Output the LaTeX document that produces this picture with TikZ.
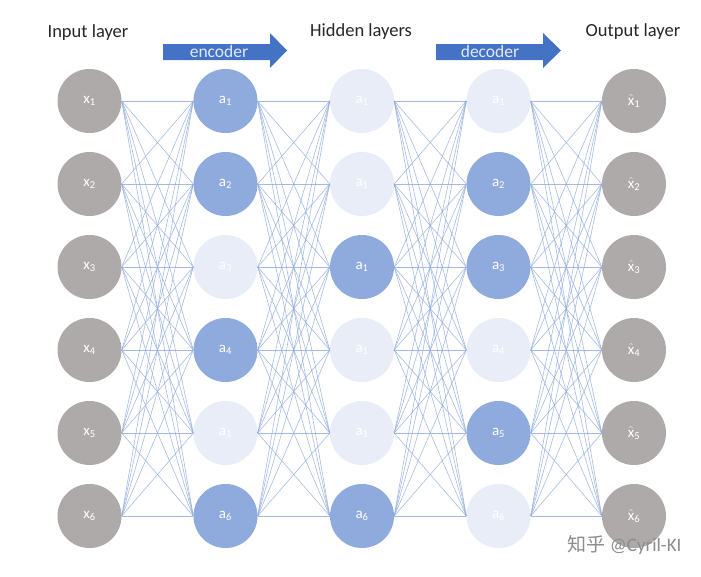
\documentclass[tikz,border=0pt]{standalone}
\usepackage{fontspec}
\setmainfont{Carlito}
\newfontfamily\cjk{Noto Sans CJK SC}
\definecolor{greyn}{HTML}{AEAAAA}
\definecolor{darkn}{HTML}{8FAADC}
\definecolor{lightn}{HTML}{E8EDF8}
\definecolor{linec}{HTML}{8FAADC}
\definecolor{arrowc}{HTML}{4472C4}
\tikzset{
  neuron/.style={circle,minimum size=64pt,inner sep=0pt,text=white,font=\fontsize{15}{17}\selectfont},
  inn/.style={neuron,fill=greyn},
  dk/.style={neuron,fill=darkn},
  lt/.style={neuron,fill=lightn,text=white},
  conn/.style={draw=linec,line width=0.6pt,opacity=0.8},
  title/.style={font=\fontsize{18.5}{21}\selectfont,text=black!85},
  bigarrow/.style={fill=arrowc},
  arrowtext/.style={font=\fontsize{17.5}{19}\selectfont,text=white!85!arrowc}
}
\newcommand{\xh}[1]{\ensuremath{\hat{\mbox{x}}}\textsubscript{#1}}
\begin{document}
\begin{tikzpicture}[x=1pt,y=-1pt]
\useasboundingbox (0,0) rectangle (701,576);
% columns
\foreach \r/\y in {1/101,2/184,3/267,4/350,5/433,6/516}{
  \node[inn] (c1r\r) at (89.5,\y) {x\textsubscript{\r}};
}
\node[dk] (c2r1) at (225.5,101) {a\textsubscript{1}};
\node[dk] (c2r2) at (225.5,184) {a\textsubscript{2}};
\node[lt] (c2r3) at (225.5,267) {a\textsubscript{3}};
\node[dk] (c2r4) at (225.5,350) {a\textsubscript{4}};
\node[lt] (c2r5) at (225.5,433) {a\textsubscript{1}};
\node[dk] (c2r6) at (225.5,516) {a\textsubscript{6}};
\node[lt] (c3r1) at (362,101) {a\textsubscript{1}};
\node[lt] (c3r2) at (362,184) {a\textsubscript{1}};
\node[dk] (c3r3) at (362,267) {a\textsubscript{1}};
\node[lt] (c3r4) at (362,350) {a\textsubscript{1}};
\node[lt] (c3r5) at (362,433) {a\textsubscript{1}};
\node[dk] (c3r6) at (362,516) {a\textsubscript{6}};
\node[lt] (c4r1) at (498.5,101) {a\textsubscript{1}};
\node[dk] (c4r2) at (498.5,184) {a\textsubscript{2}};
\node[dk] (c4r3) at (498.5,267) {a\textsubscript{3}};
\node[lt] (c4r4) at (498.5,350) {a\textsubscript{4}};
\node[dk] (c4r5) at (498.5,433) {a\textsubscript{5}};
\node[lt] (c4r6) at (498.5,516) {a\textsubscript{6}};
\foreach \r/\y in {1/101,2/184,3/267,4/350,5/433,6/516}{
  \node[inn] (c5r\r) at (634,\y) {\xh{\r}};
}
% connections
\foreach \c/\n in {1/2,2/3,3/4,4/5}{
  \foreach \i in {1,...,6}{
    \foreach \j in {1,...,6}{
      \draw[conn] (c\c r\i.east) -- (c\n r\j.west);
    }
  }
}
% titles
\node[title] (tin) at (88,33) {Input layer};
\node[title] (thid) at (361,32) {Hidden layers};
\node[title] (tout) at (633,32) {Output layer};
% arrows
\fill[bigarrow] (163,44) -- (270,44) -- (270,33) -- (287,50.5) -- (270,68) -- (270,60) -- (163,60) -- cycle;
\node[arrowtext] (enc) at (219,51) {encoder};
\fill[bigarrow] (436,44) -- (543,44) -- (543,33) -- (561,50.5) -- (543,68) -- (543,60) -- (436,60) -- cycle;
\node[arrowtext] (dec) at (490,51) {decoder};
% watermark
\node[font=\fontsize{19}{21}\selectfont,text=black!45,anchor=east] (wm) at (685,545) {{\cjk 知乎} @Cyril-KI};
\end{tikzpicture}
\end{document}
